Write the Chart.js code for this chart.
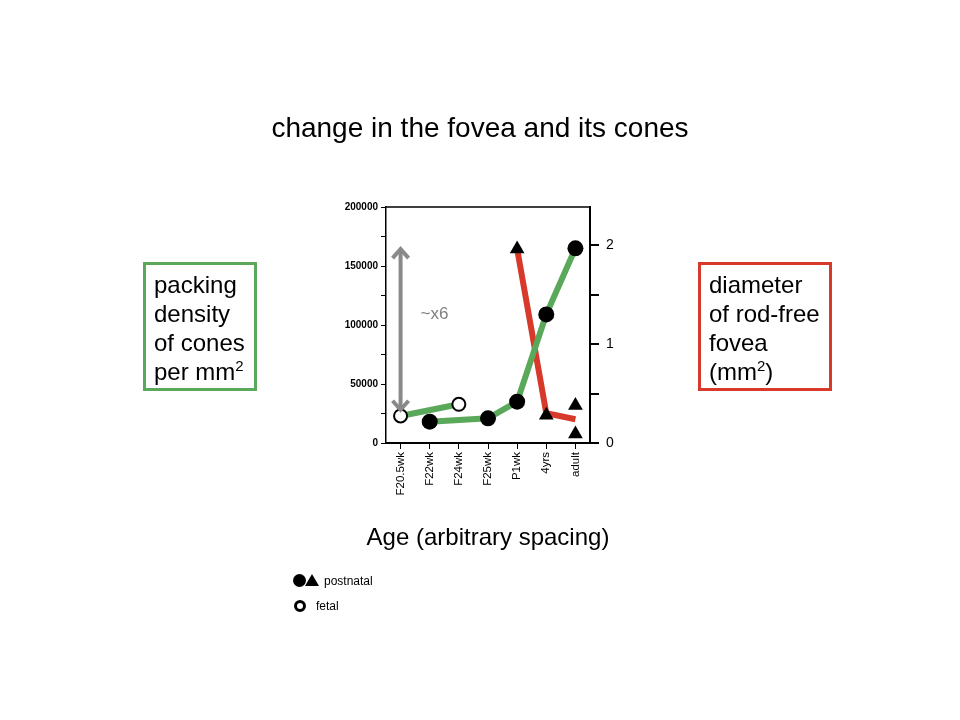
<!DOCTYPE html>
<html>
<head>
<meta charset="utf-8">
<script src="https://cdn.jsdelivr.net/npm/chart.js@4.4.1/dist/chart.umd.min.js"></script>
<style>
  body { margin: 0; background: #fff; font-family: 'Liberation Sans', Arial, sans-serif; color: #000; }
  #wrap { position: relative; width: 960px; height: 720px; overflow: hidden; }
  #fovea { position: absolute; left: 0; top: 0; }
  .txt { position: absolute; white-space: nowrap; }
  .title { left: 0; width: 960px; top: 112px; text-align: center; font-size: 28px; line-height: 32px; }
  .xtitle { left: 288px; width: 400px; top: 523px; text-align: center; font-size: 24px; line-height: 28px; }
  .box { position: absolute; box-sizing: border-box; border: 3px solid; font-size: 24px; line-height: 29px; padding: 5px 0 0 8px; }
  .box sup { font-size: 15px; vertical-align: 9px; line-height: 0; }
  .green { left: 143px; top: 262px; width: 114px; height: 129px; border-color: #5aa85a; }
  .red { left: 698px; top: 262px; width: 134px; height: 129px; border-color: #d7392a; }
  .dot { position: absolute; width: 13px; height: 13px; border-radius: 50%; background: #000; }
  .ring { position: absolute; box-sizing: border-box; width: 12px; height: 12px; border-radius: 50%; border: 3px solid #000; }
  .tri { position: absolute; width: 0; height: 0; border-left: 7px solid transparent; border-right: 7px solid transparent; border-bottom: 12px solid #000; }
  .leg { font-size: 12px; line-height: 14px; }
</style>
</head>
<body>
<div id="wrap">
  <canvas id="fovea" width="960" height="720"></canvas>
  <div class="txt title">change in the fovea and its cones</div>
  <div class="txt xtitle">Age (arbitrary spacing)</div>
  <div class="box green">packing<br>density<br>of cones<br>per mm<sup>2</sup></div>
  <div class="box red">diameter<br>of rod-free<br>fovea<br>(mm<sup>2</sup>)</div>
  <div class="dot" style="left:293px; top:574px;"></div>
  <div class="tri" style="left:305px; top:574px;"></div>
  <div class="txt leg" style="left:324px; top:574px;">postnatal</div>
  <div class="ring" style="left:294px; top:600px;"></div>
  <div class="txt leg" style="left:316px; top:599px;">fetal</div>
</div>
<script>
// ---- data ----
const categories = ['F20.5wk', 'F22wk', 'F24wk', 'F25wk', 'P1wk', '4yrs', 'adult'];

// cone packing density (cones / mm2), left axis
const fetalDensity     = [22900, null, 32800, null, null, null, null];
const postnatalDensity = [null, 18100, null, 20900, 35000, 109000, 165000];

// rod-free fovea diameter (mm2), right axis
const foveaLine       = [null, null, null, null, 1.96, 0.30, 0.24];
const foveaPointCats  = ['P1wk', '4yrs', 'adult', 'adult'];
const foveaPointVals  = [1.96, 0.28, 0.38, 0.09];

// left axis / right axis tick labels
const densityTicks = [0, 50000, 100000, 150000, 200000];
const diameterTicks = [0, 1, 2];

// "~x6" arrow spanning the density increase
const arrowCategory = 'F20.5wk';
const arrowRange = [166000, 26500];
const foldLabel = '~x6';
const foldLabelValue = 109000;

const GREEN = '#5aa85a';
const RED = '#d7392a';

Chart.defaults.font.family = "'Liberation Sans', Arial, sans-serif";
Chart.defaults.color = '#000';

const foveaPoints = foveaPointCats.map((c, i) => ({ x: c, y: foveaPointVals[i] }));

// box top line + fold arrow
const extrasPlugin = {
  id: 'extras',
  afterDatasetsDraw(chart) {
    const { ctx, chartArea, scales } = chart;
    ctx.save();
    ctx.strokeStyle = '#000';
    ctx.lineWidth = 1.5;
    ctx.beginPath();
    ctx.moveTo(chartArea.left, chartArea.top);
    ctx.lineTo(chartArea.right, chartArea.top);
    ctx.stroke();

    const x = scales.x.getPixelForValue(categories.indexOf(arrowCategory));
    const yTop = scales.y.getPixelForValue(arrowRange[0]);
    const yBot = scales.y.getPixelForValue(arrowRange[1]);
    ctx.strokeStyle = '#8a8a8a';
    ctx.lineWidth = 4;
    ctx.lineJoin = 'miter';
    ctx.beginPath();
    ctx.moveTo(x, yTop + 2);
    ctx.lineTo(x, yBot - 2);
    ctx.stroke();
    ctx.beginPath();
    ctx.moveTo(x - 8, yTop + 11);
    ctx.lineTo(x, yTop + 2);
    ctx.lineTo(x + 8, yTop + 11);
    ctx.moveTo(x - 8, yBot - 11);
    ctx.lineTo(x, yBot - 2);
    ctx.lineTo(x + 8, yBot - 11);
    ctx.stroke();

    ctx.fillStyle = '#808080';
    ctx.font = "17px 'Liberation Sans', Arial, sans-serif";
    ctx.textBaseline = 'middle';
    ctx.textAlign = 'left';
    ctx.fillText(foldLabel, x + 20, scales.y.getPixelForValue(foldLabelValue));
    ctx.restore();
  }
};

new Chart(document.getElementById('fovea').getContext('2d'), {
  type: 'line',
  data: {
    labels: categories,
    datasets: [
      {
        label: 'diameter points', data: foveaPoints, yAxisID: 'y2', showLine: false,
        pointStyle: 'triangle', pointRadius: 8.5, pointBackgroundColor: '#000', pointBorderColor: '#000', pointBorderWidth: 0
      },
      {
        label: 'postnatal', data: postnatalDensity, yAxisID: 'y', showLine: false,
        pointRadius: 8, pointBackgroundColor: '#000', pointBorderColor: '#000', pointBorderWidth: 0
      },
      {
        label: 'fetal', data: fetalDensity, yAxisID: 'y', showLine: false,
        pointRadius: 6.5, pointBackgroundColor: '#fff', pointBorderColor: '#000', pointBorderWidth: 2
      },
      {
        label: 'postnatal line', data: postnatalDensity, yAxisID: 'y', spanGaps: true,
        borderColor: GREEN, borderWidth: 6, pointRadius: 0, tension: 0
      },
      {
        label: 'fetal line', data: fetalDensity, yAxisID: 'y', spanGaps: true,
        borderColor: GREEN, borderWidth: 6, pointRadius: 0, tension: 0
      },
      {
        label: 'diameter line', data: foveaLine, yAxisID: 'y2', spanGaps: true,
        borderColor: RED, borderWidth: 6, pointRadius: 0, tension: 0
      }
    ]
  },
  options: {
    responsive: false,
    animation: false,
    layout: { padding: { left: 326, right: 330, top: 207, bottom: 207 } },
    plugins: { legend: { display: false }, tooltip: { enabled: false } },
    scales: {
      x: {
        type: 'category',
        offset: true,
        grid: { display: true, drawOnChartArea: false, offset: false, color: '#000', tickLength: 6 },
        border: { color: '#000', width: 2 },
        ticks: { minRotation: 90, maxRotation: 90, autoSkip: false, font: { size: 11.5 }, color: '#000', padding: 3 },
        afterFit: s => { s.height = 70; }
      },
      y: {
        position: 'left',
        min: 0, max: 200000,
        grid: { drawOnChartArea: false, color: '#000', tickLength: 5 },
        border: { color: '#000', width: 1.5 },
        ticks: {
          stepSize: 25000,
          font: { size: 10, weight: 'bold' }, color: '#000', padding: 3,
          callback: v => densityTicks.includes(v) ? String(v) : ''
        },
        afterFit: s => { s.width = 60; }
      },
      y2: {
        position: 'right',
        min: 0, max: 2.384,
        grid: { drawOnChartArea: false, color: '#000', tickLength: 9, lineWidth: 2 },
        border: { color: '#000', width: 2 },
        ticks: {
          stepSize: 0.5, includeBounds: false,
          font: { size: 14 }, color: '#000', padding: 7,
          callback: v => diameterTicks.includes(v) ? String(v) : ''
        },
        afterFit: s => { s.width = 40; }
      }
    }
  },
  plugins: [extrasPlugin]
});
</script>
</body>
</html>
